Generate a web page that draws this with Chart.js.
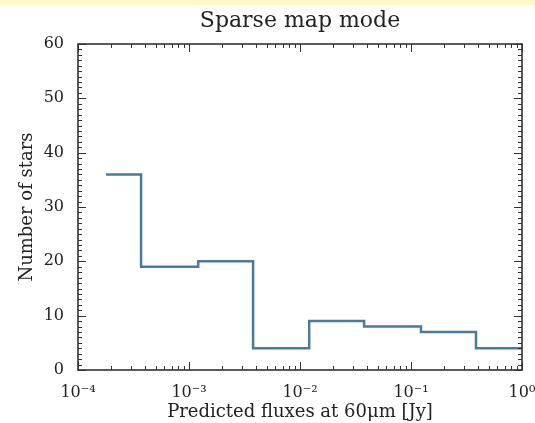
<!DOCTYPE html>
<html>
<head>
<meta charset="utf-8">
<script src="https://cdn.jsdelivr.net/npm/chart.js@4"></script>
<style>
  html, body { margin: 0; padding: 0; background: #fff; }
  #wrap { position: relative; width: 535px; height: 423px; }
  #band { position: absolute; left: 0; top: 0; width: 535px; height: 5px; background: #fffac8; }
</style>
</head>
<body>
<div id="wrap">
  <div id="band"></div>
  <canvas id="histChart" width="535" height="423"></canvas>
</div>
<script>
// bin left edges (Jy) and counts per bin
const binEdges = [1.79e-4, 3.7e-4, 1.21e-3, 3.78e-3, 1.21e-2, 3.78e-2, 0.123, 0.385, 1];
const starCounts = [36, 19, 20, 4, 9, 8, 7, 4];
const xTicks = [1e-4, 1e-3, 1e-2, 1e-1, 1];
const xTickLabels = ['10⁻⁴', '10⁻³', '10⁻²', '10⁻¹', '10⁰'];
const yTicks = [0, 10, 20, 30, 40, 50, 60];

const ink = '#222';
const serif = "'DejaVu Serif', serif";

// step points: each bin edge with its count, last edge repeats the last count
const points = binEdges.map((x, i) => ({ x: x, y: starCounts[Math.min(i, starCounts.length - 1)] }));

// frame and inward ticks like matplotlib
const frameTicks = {
    id: 'frameTicks',
    afterDraw(chart) {
        const ctx = chart.ctx;
        const a = chart.chartArea;
        const xs = chart.scales.x;
        const ys = chart.scales.y;
        ctx.save();
        ctx.strokeStyle = '#333';
        ctx.lineWidth = 1;

        const tick = (x1, y1, x2, y2) => {
            ctx.beginPath();
            ctx.moveTo(x1, y1);
            ctx.lineTo(x2, y2);
            ctx.stroke();
        };

        // x ticks: majors on decades, minors 2..9
        for (let d = -4; d <= 0; d++) {
            for (let m = 1; m <= 9; m++) {
                const v = m * Math.pow(10, d);
                if (v > 1) break;
                const px = Math.round(xs.getPixelForValue(v)) + 0.5;
                const len = m === 1 ? 8 : 4;
                tick(px, a.bottom, px, a.bottom - len);
                tick(px, a.top, px, a.top + len);
            }
        }
        // y ticks: majors every 10, minors every 1
        for (let v = 0; v <= 60; v++) {
            const py = Math.round(ys.getPixelForValue(v)) + 0.5;
            const len = v % 10 === 0 ? 8 : 4;
            tick(a.left, py, a.left + len, py);
            tick(a.right, py, a.right - len, py);
        }

        ctx.lineWidth = 1.6;
        ctx.strokeRect(a.left, a.top, a.right - a.left, a.bottom - a.top);
        ctx.restore();
    }
};

new Chart(document.getElementById('histChart'), {
    type: 'line',
    data: {
        datasets: [{
            data: points,
            stepped: 'before',
            borderColor: '#4b7a9b',
            borderWidth: 2.5,
            pointRadius: 0,
            fill: false
        }]
    },
    options: {
        responsive: false,
        animation: false,
        layout: { padding: { left: 0, right: 13, top: 0, bottom: 0 } },
        plugins: {
            legend: { display: false },
            tooltip: { enabled: false },
            title: {
                display: true,
                fullSize: false,
                text: 'Sparse map mode',
                color: ink,
                font: { family: serif, size: 22, weight: 'normal' },
                padding: { top: 8, bottom: 9.6 }
            }
        },
        scales: {
            x: {
                type: 'logarithmic',
                min: 1e-4,
                max: 1,
                grid: { display: false },
                border: { display: false },
                afterBuildTicks: (s) => { s.ticks = xTicks.map(v => ({ value: v })); },
                afterFit: (s) => { s.height = 53; s.paddingLeft = 0; s.paddingRight = 0; },
                ticks: {
                    autoSkip: false,
                    maxRotation: 0,
                    padding: 5,
                    color: ink,
                    font: { family: serif, size: 16 },
                    callback: (v, i) => xTickLabels[i]
                },
                title: {
                    display: true,
                    text: 'Predicted fluxes at 60μm [Jy]',
                    color: ink,
                    font: { family: serif, size: 18 },
                    padding: { top: 0, bottom: 0 }
                }
            },
            y: {
                min: 0,
                max: 60,
                grid: { display: false },
                border: { display: false },
                afterBuildTicks: (s) => { s.ticks = yTicks.map(v => ({ value: v })); },
                afterFit: (s) => { s.width = 78; },
                ticks: {
                    padding: 6,
                    color: ink,
                    font: { family: serif, size: 16 }
                },
                title: {
                    display: true,
                    text: 'Number of stars',
                    color: ink,
                    font: { family: serif, size: 18 },
                    padding: { top: 17, bottom: 0 }
                }
            }
        }
    },
    plugins: [frameTicks]
});
</script>
</body>
</html>
